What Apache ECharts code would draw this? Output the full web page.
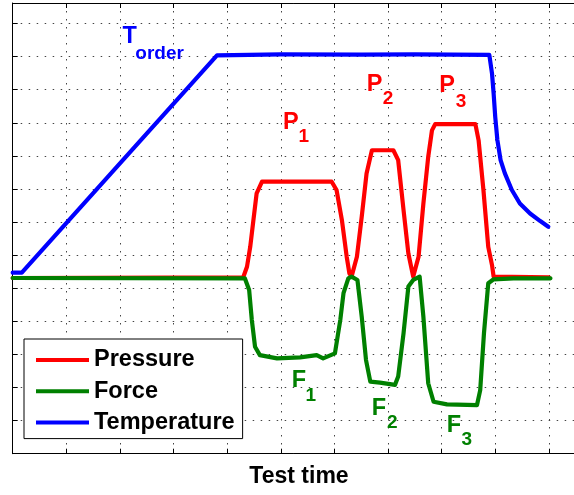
<!DOCTYPE html>
<html>
<head>
<meta charset="utf-8">
<script src="https://cdn.jsdelivr.net/npm/echarts@6/dist/echarts.min.js"></script>
<style>
  html, body { margin: 0; padding: 0; background: #fff; }
  #chart { width: 574px; height: 495px; }
</style>
</head>
<body>
<div id="chart"></div>
<script>
// x and y are in grid units (one unit = one dotted grid cell)
const seriesNames = ['Pressure', 'Force', 'Temperature'];

const pressure = [
  [0, 5.31], [4.30, 5.33], [4.37, 5.65], [4.43, 6.25], [4.49, 7.06], [4.55, 7.87], [4.65, 8.22],
  [5.95, 8.22], [6.04, 7.97], [6.14, 7.06], [6.23, 5.95], [6.28, 5.45], [6.32, 5.35],
  [6.42, 5.95], [6.51, 7.16], [6.60, 8.47], [6.70, 9.17], [7.10, 9.17], [7.19, 8.87],
  [7.29, 7.36], [7.38, 6.05], [7.47, 5.35], [7.57, 5.95], [7.66, 7.56], [7.75, 8.97],
  [7.82, 9.77], [7.88, 9.96], [8.63, 9.96], [8.69, 9.47], [8.78, 7.97], [8.87, 6.25],
  [8.94, 5.7], [8.97, 5.35], [10.0, 5.33]
];

const force = [
  [0, 5.31], [4.33, 5.30], [4.41, 4.95], [4.46, 4.04], [4.52, 3.23], [4.61, 2.98], [4.93, 2.88],
  [5.36, 2.91], [5.67, 2.98], [5.79, 2.88], [6.01, 3.03], [6.11, 4.04], [6.17, 4.85], [6.26, 5.30],
  [6.32, 5.35], [6.43, 5.25], [6.51, 4.14], [6.59, 2.83], [6.67, 2.18], [6.85, 2.15], [7.13, 2.08],
  [7.19, 2.33], [7.29, 3.64], [7.38, 5.05], [7.47, 5.25], [7.59, 5.35], [7.66, 4.14], [7.75, 2.13],
  [7.85, 1.57], [8.10, 1.49], [8.66, 1.47], [8.72, 1.92], [8.79, 3.64], [8.87, 5.15], [8.97, 5.27],
  [9.34, 5.30], [10.03, 5.30]
];

const temperature = [
  [0, 5.47], [0.17, 5.47], [3.81, 12.04], [5.0, 12.07], [6.5, 12.06], [7.5, 12.07], [8.89, 12.05],
  [8.94, 11.49], [8.97, 10.89], [9.0, 10.18], [9.04, 9.48], [9.10, 8.87], [9.18, 8.47],
  [9.31, 7.97], [9.46, 7.56], [9.65, 7.26], [9.84, 7.03], [9.99, 6.86]
];

const axisName = 'Test time';

const FONT = 'Liberation Sans, Arial, sans-serif';

// annotation helper: big letter or subscript text at a data coordinate
function note(text, x, y, color, sub) {
  return {
    name: text,
    coord: [x, y],
    label: {
      show: true,
      position: 'inside',
      formatter: '{b}',
      color: color,
      fontFamily: FONT,
      fontWeight: 'bold',
      fontSize: sub ? 19 : 23.5
    }
  };
}

const dotted = { color: '#444', width: 1, type: [1.5, 6.5] };

const lineBase = {
  type: 'line',
  showSymbol: false,
  smooth: false
};

const chart = echarts.init(document.getElementById('chart'));

chart.setOption({
  animation: false,
  backgroundColor: '#fff',
  grid: {
    left: 12.7,
    top: 3,
    width: 572.6,
    height: 450.7,
    outerBoundsMode: 'none'
  },
  legend: {
    data: seriesNames,
    orient: 'vertical',
    left: 24,
    top: 339,
    padding: [8, 8, 3, 12],
    itemGap: 5.3,
    itemWidth: 53,
    itemHeight: 4,
    icon: 'rect',
    backgroundColor: '#fff',
    borderColor: '#000',
    borderWidth: 1,
    borderRadius: 0,
    textStyle: {
      fontFamily: FONT,
      fontWeight: 'bold',
      fontSize: 23.5,
      lineHeight: 26,
      color: '#000'
    }
  },
  xAxis: [
    {
      type: 'value',
      min: 0,
      max: 10.68,
      interval: 1,
      name: axisName,
      nameLocation: 'middle',
      nameGap: 11,
      nameTextStyle: {
        fontFamily: FONT,
        fontWeight: 'bold',
        fontSize: 23,
        color: '#000'
      },
      axisLine: { show: true, lineStyle: { color: '#000', width: 1 } },
      axisTick: { show: true, inside: true, length: 5, lineStyle: { color: '#000' } },
      axisLabel: { show: false },
      splitLine: { show: true, lineStyle: dotted }
    },
    {
      type: 'value',
      position: 'top',
      min: 0,
      max: 10.68,
      interval: 1,
      axisLine: { show: true, lineStyle: { color: '#000', width: 1 } },
      axisTick: { show: true, inside: true, length: 5, lineStyle: { color: '#000' } },
      axisLabel: { show: false },
      splitLine: { show: false }
    }
  ],
  yAxis: {
    type: 'value',
    min: 0,
    max: 13.62,
    interval: 1,
    axisLine: { show: true, lineStyle: { color: '#000', width: 1 } },
    axisTick: { show: true, inside: true, length: 5, lineStyle: { color: '#000' } },
    axisLabel: { show: false },
    splitLine: { show: true, lineStyle: dotted }
  },
  series: [
    Object.assign({}, lineBase, {
      name: 'Pressure',
      data: pressure,
      color: '#ff0000',
      lineStyle: { width: 4.2, join: 'round', cap: 'round' },
      markPoint: {
        symbolSize: 0,
        data: [
          note('P', 5.19, 10.0, '#ff0000'), note('1', 5.43, 9.57, '#ff0000', true),
          note('P', 6.75, 11.16, '#ff0000'), note('2', 7.0, 10.73, '#ff0000', true),
          note('P', 8.10, 11.12, '#ff0000'), note('3', 8.36, 10.64, '#ff0000', true)
        ]
      }
    }),
    Object.assign({}, lineBase, {
      name: 'Force',
      data: force,
      color: '#008000',
      lineStyle: { width: 4.2, join: 'round', cap: 'round' },
      markPoint: {
        symbolSize: 0,
        data: [
          note('F', 5.34, 2.21, '#008000'), note('1', 5.56, 1.76, '#008000', true),
          note('F', 6.83, 1.38, '#008000'), note('2', 7.08, 0.94, '#008000', true),
          note('F', 8.23, 0.84, '#008000'), note('3', 8.47, 0.41, '#008000', true)
        ]
      }
    }),
    Object.assign({}, lineBase, {
      name: 'Temperature',
      data: temperature,
      color: '#0000ff',
      lineStyle: { width: 4.2, join: 'round', cap: 'round' },
      markPoint: {
        symbolSize: 0,
        data: [
          note('T', 2.18, 12.60, '#0000ff'), note('order', 2.74, 12.09, '#0000ff', true)
        ]
      }
    })
  ]
});
</script>
</body>
</html>
